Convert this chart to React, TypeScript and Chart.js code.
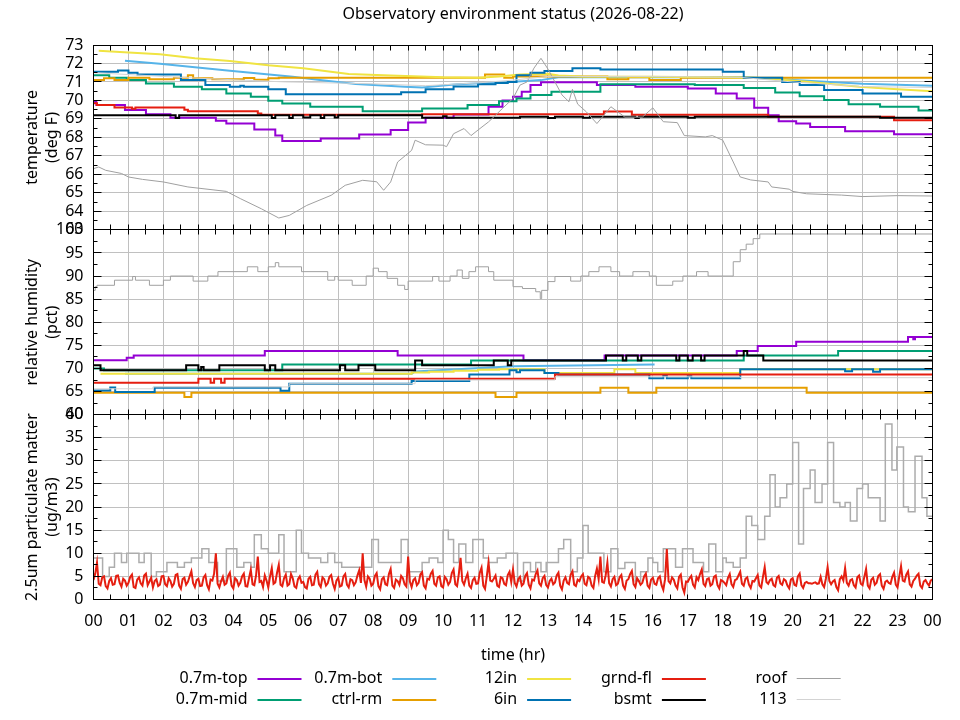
import React, { useEffect, useRef } from 'react';
import { Chart, registerables } from 'chart.js';

Chart.register(...registerables);

type P = [number, number];

// ---------- legend / series meta ----------
const SENSORS = ['0.7m-top', '0.7m-mid', '0.7m-bot', 'ctrl-rm', '12in', '6in', 'grnd-fl', 'bsmt', 'roof', '113'];
const LINE_COLORS = ['#9400d3', '#009e73', '#56b4e9', '#e69f00', '#f0e442', '#0072b2', '#e51e10', '#000000', '#a0a0a0', '#d3d3d3'];
const LINE_WIDTHS = [2, 2, 2, 2, 2, 2, 2, 2, 1, 1];

const HOUR_LABELS = ['00', '01', '02', '03', '04', '05', '06', '07', '08', '09', '10', '11', '12', '13', '14', '15', '16', '17', '18', '19', '20', '21', '22', '23', '00'];

const TITLE = 'Observatory environment status (2026-08-22)';
const X_TITLE = 'time (hr)';
const TEMP_TITLE = ['temperature', '(deg F)'];
const HUM_TITLE = ['relative humidity', '(pct)'];
const PM_TITLE = ['2.5um particulate matter', '(ug/m3)'];

const TEMP_AXIS = { min: 63, max: 73, step: 1 };
const HUM_AXIS = { min: 60, max: 100, step: 5 };
const PM_AXIS = { min: 0, max: 40, step: 5 };

// ---------- temperature (deg F) : [hour, value] ----------
const tTop: P[] = [[0, 69.93], [0.08, 69.75], [0.9, 69.48], [1.5, 69.26], [2.2, 69.06], [3.5, 68.9], [3.8, 68.75], [4.6, 68.43], [5.2, 68.1], [5.4, 67.8], [6.5, 67.94], [7.6, 68.16], [8.5, 68.4], [9.0, 68.81], [9.5, 69.06], [10.3, 69.24], [11.3, 69.66], [11.7, 70.0], [12.0, 70.2], [12.25, 70.47], [12.5, 70.83], [12.8, 70.98], [14.4, 70.83], [15.5, 70.74], [17.0, 70.65], [17.8, 70.38], [18.4, 70.11], [18.9, 69.6], [19.3, 69.2], [19.6, 68.88], [20.1, 68.75], [20.5, 68.57], [21.5, 68.34], [22.9, 68.17], [24, 68.17]];
const tMid: P[] = [[0, 71.37], [0.45, 71.23], [0.95, 71.1], [1.5, 70.92], [2.3, 70.74], [3.1, 70.6], [3.8, 70.38], [4.5, 70.2], [5.0, 69.98], [5.4, 69.84], [6.2, 69.66], [7.7, 69.42], [9.4, 69.57], [10.7, 69.75], [11.6, 69.96], [12.1, 70.11], [12.5, 70.29], [13.1, 70.47], [14.5, 70.87], [17.2, 70.83], [18.6, 70.67], [19.5, 70.43], [20.2, 70.23], [20.9, 70.02], [21.6, 69.79], [22.5, 69.66], [23.6, 69.45], [24, 69.45]];
const tBot: P[] = [[0.9, 72.15], [1.9, 71.98], [2.9, 71.79], [3.9, 71.61], [4.8, 71.45], [5.7, 71.28], [6.6, 71.08], [7.5, 70.89], [8.9, 70.74], [9.4, 70.7], [10.4, 70.87], [11.8, 70.98], [12.8, 71.1], [13.3, 71.25], [18.6, 71.25], [20, 71.1], [22, 70.9], [24, 70.8]];
const tCtrl: P[] = [[0, 71.1], [0.3, 71.2], [0.6, 71.1], [1.0, 71.23], [1.6, 71.15], [2.3, 71.23], [2.7, 71.37], [2.85, 71.2], [3.4, 71.15], [4.3, 71.22], [4.6, 71.12], [5.0, 71.2], [5.3, 71.23], [11.2, 71.41], [11.75, 71.23], [12.0, 71.3], [14.7, 71.15], [15.3, 71.25], [15.9, 71.1], [16.8, 71.23], [24, 71.23]];
const t12in: P[] = [[0.15, 72.69], [1.0, 72.6], [1.9, 72.5], [2.9, 72.28], [3.9, 72.13], [5.0, 71.9], [6.0, 71.74], [7.3, 71.43], [8.5, 71.35], [10.0, 71.25], [11.0, 71.23], [11.6, 71.3], [12.2, 71.4], [13.0, 71.45], [13.3, 71.35], [14.0, 71.3], [16.0, 71.28], [17.5, 71.25], [19.0, 71.23], [20.5, 71.0], [21.9, 70.74], [23.0, 70.6], [24, 70.5]];
const t6in: P[] = [[0, 71.55], [0.7, 71.62], [1.0, 71.5], [1.26, 71.41], [2.5, 71.1], [3.2, 70.83], [3.9, 70.74], [4.2, 70.8], [4.3, 70.74], [5.0, 70.6], [5.5, 70.33], [8.8, 70.45], [9.5, 70.6], [10.3, 70.75], [11.0, 70.87], [11.5, 70.95], [11.85, 71.0], [12.1, 71.37], [12.5, 71.5], [12.9, 71.6], [13.7, 71.74], [14.5, 71.68], [18.0, 71.55], [18.6, 71.23], [19.7, 71.0], [20.2, 70.83], [20.9, 70.56], [22.0, 70.38], [23.1, 70.2], [24, 70.2]];
const tGrnd: P[] = [[0, 69.85], [0.1, 69.75], [0.6, 69.62], [1.1, 69.55], [1.2, 69.62], [2.6, 69.5], [2.7, 69.42], [4.7, 69.3], [4.8, 69.22], [9.4, 69.26], [14.6, 69.4], [15.4, 69.22], [19.3, 69.12], [22.9, 68.93], [24, 68.93]];
const tBsmt: P[] = [[0, 69.2], [2.35, 69.05], [2.45, 69.2], [5.1, 69.05], [5.2, 69.2], [5.6, 69.05], [5.7, 69.2], [6.0, 69.08], [6.2, 69.2], [6.5, 69.05], [6.6, 69.2], [6.9, 69.08], [7.0, 69.2], [9.4, 69.06], [10.0, 69.15], [10.1, 69.06], [12.2, 69.12], [13.0, 69.05], [13.2, 69.12], [14.0, 69.06], [14.2, 69.12], [15.5, 69.05], [15.6, 69.12], [17.0, 69.06], [17.2, 69.12], [22.5, 69.06], [24, 69.06]];
const tRoof: P[] = [[0, 66.31], [0.15, 66.4], [0.35, 66.22], [0.8, 66.05], [1.0, 65.86], [1.4, 65.73], [2.0, 65.59], [2.7, 65.32], [3.8, 65.08], [4.2, 64.69], [4.8, 64.14], [5.3, 63.64], [5.6, 63.78], [6.1, 64.32], [6.8, 64.87], [7.2, 65.41], [7.7, 65.68], [8.1, 65.6], [8.3, 65.14], [8.5, 65.59], [8.7, 66.67], [9.1, 67.3], [9.2, 67.85], [9.5, 67.6], [10.0, 67.58], [10.1, 67.5], [10.3, 68.2], [10.6, 68.48], [10.8, 68.1], [11.0, 68.4], [11.3, 68.84], [11.5, 69.2], [11.7, 69.57], [12.0, 70.11], [12.2, 70.83], [12.4, 71.0], [12.6, 71.75], [12.8, 72.28], [13.0, 71.7], [13.2, 71.0], [13.4, 70.3], [13.6, 69.93], [13.7, 70.6], [13.85, 69.8], [14.1, 69.38], [14.4, 68.75], [14.6, 69.2], [14.8, 69.66], [15.2, 69.1], [15.7, 69.1], [16.0, 69.6], [16.3, 68.85], [16.7, 68.8], [16.9, 68.1], [17.5, 68.03], [17.7, 68.1], [18.0, 67.85], [18.3, 66.67], [18.5, 65.86], [18.8, 65.7], [19.3, 65.59], [19.4, 65.32], [19.9, 65.2], [20.0, 65.08], [20.4, 64.95], [21.4, 64.88], [22.0, 64.8], [23.0, 64.85], [24, 64.83]];
const t113: P[] = [[0, 71.5], [1.5, 71.35], [3, 71.2], [5.5, 71.0], [8, 70.9], [9.5, 70.8], [11, 70.95], [12, 71.1], [13, 71.3], [16, 71.3], [18.5, 71.25], [20, 71.0], [22, 70.75], [24, 70.7]];

// ---------- relative humidity (pct) ----------
const hTop: P[] = [[0, 71.75], [0.95, 72.3], [1.15, 72.83], [4.9, 73.77], [8.7, 72.83], [12.3, 71.8], [14.62, 72.83], [18.4, 73.77], [19.0, 74.85], [20.1, 75.8], [23.3, 76.8], [23.45, 76.3], [23.5, 76.8], [24, 76.8]];
const hMid: P[] = [[0, 70.0], [0.3, 69.6], [5.4, 70.85], [10.8, 71.7], [18.6, 72.83], [21.3, 73.77], [24, 73.77]];
const hBot: P[] = [[0.9, 68.85], [9.1, 68.85], [9.2, 69.35], [12.0, 70.46], [16.05, 70.83]];
const hCtrl: P[] = [[0, 64.74], [2.6, 63.8], [2.8, 64.74], [11.5, 63.8], [12.1, 64.74], [14.5, 65.8], [15.3, 64.74], [16.1, 65.8], [20.4, 64.74], [24, 64.74]];
const h12in: P[] = [[0.2, 68.85], [9.1, 69.1], [9.6, 69.3], [10.3, 69.5], [11.0, 69.7], [11.6, 69.85], [12.9, 69.0], [14.9, 69.85], [15.5, 69.0], [18.5, 69.85], [24, 69.85]];
const h6in: P[] = [[0, 65.25], [0.48, 65.9], [0.62, 64.9], [1.75, 65.8], [5.35, 65.2], [5.6, 66.7], [9.1, 67.3], [10.75, 68.7], [11.9, 69.6], [12.1, 69.2], [12.2, 69.6], [12.9, 69.0], [13.3, 68.7], [15.9, 67.9], [16.3, 68.5], [16.4, 67.9], [17.0, 68.3], [17.1, 67.9], [18.5, 69.85], [21.5, 69.4], [21.7, 69.85], [22.3, 69.3], [22.5, 69.85], [24, 69.85]];
const hGrnd: P[] = [[0, 66.9], [3.0, 67.77], [3.35, 66.9], [3.45, 67.77], [3.65, 66.9], [3.75, 67.77], [13.2, 68.7], [24, 68.7]];
const hBsmt: P[] = [[0, 70.7], [0.2, 69.6], [2.65, 70.7], [3.0, 69.6], [3.08, 70.3], [3.15, 69.6], [3.6, 70.7], [4.9, 69.6], [5.05, 70.7], [5.2, 69.6], [7.05, 70.7], [7.2, 69.6], [7.58, 70.7], [8.06, 69.6], [9.2, 71.7], [9.4, 70.7], [11.45, 71.7], [11.85, 70.7], [11.95, 71.7], [14.66, 72.83], [15.14, 71.7], [15.24, 72.83], [15.57, 71.7], [15.67, 72.83], [16.67, 71.7], [16.76, 72.83], [17.0, 71.7], [17.14, 72.83], [17.38, 71.7], [17.48, 72.83], [18.6, 73.77], [18.7, 72.83], [19.16, 71.7], [24, 71.7]];
const hRoof: P[] = [[0, 86.9], [0.05, 87.7], [0.1, 88.0], [0.6, 89.1], [1.12, 89.9], [1.2, 89.1], [1.6, 88.0], [2.0, 89.1], [2.2, 90.0], [2.85, 88.9], [3.27, 90.0], [3.56, 90.95], [4.4, 92.0], [4.7, 90.95], [5.0, 92.0], [5.2, 92.9], [5.3, 92.0], [5.95, 90.95], [6.7, 89.1], [6.9, 89.9], [7.0, 89.1], [7.4, 88.0], [7.8, 90.0], [8.0, 91.7], [8.15, 90.95], [8.4, 89.5], [8.7, 88.0], [8.9, 87.1], [9.0, 88.9], [9.7, 89.9], [9.88, 88.9], [10.2, 90.0], [10.4, 91.3], [10.55, 89.5], [10.74, 90.95], [10.93, 92.0], [11.3, 90.95], [11.45, 89.1], [12.0, 87.7], [12.27, 87.3], [12.65, 86.6], [12.78, 85.1], [12.82, 86.9], [13.0, 88.8], [13.2, 89.9], [13.65, 88.9], [13.94, 90.0], [14.17, 90.95], [14.46, 92.0], [14.8, 90.95], [15.05, 90.0], [15.43, 90.95], [15.9, 90.0], [16.1, 88.0], [16.57, 88.9], [16.86, 90.0], [17.25, 90.95], [17.58, 90.0], [18.3, 93.1], [18.5, 95.7], [18.67, 96.9], [18.87, 98.1], [19.06, 99.1], [24, 99.1]];
const h113: P[] = [[0, 65.6], [1.7, 66.0], [5.6, 66.7], [9.2, 67.5], [13.2, 68.2], [18.5, 68.0], [24, 68.0]];

// ---------- 2.5um particulate matter (ug/m3) ----------
const pRoof: P[] = [[0, 9], [0.26, 5], [0.45, 7], [0.6, 10], [0.8, 8], [0.95, 10], [1.3, 8], [1.45, 10], [1.65, 5], [1.8, 6], [2.1, 8], [2.4, 7], [2.6, 8], [2.8, 9], [3.1, 11], [3.3, 8], [3.55, 4], [3.8, 11], [4.1, 7], [4.3, 8], [4.5, 7], [4.6, 14], [4.8, 11], [5.0, 10], [5.3, 14], [5.45, 6], [5.8, 15], [5.95, 10], [6.15, 9], [6.5, 8], [6.7, 10], [6.9, 8], [7.1, 7], [7.96, 13], [8.15, 8], [8.8, 13], [9.0, 6], [9.4, 8], [9.6, 9], [9.85, 8], [10.0, 15], [10.15, 13], [10.3, 8], [10.45, 12], [10.65, 8], [10.85, 13], [11.15, 9], [11.3, 8], [11.55, 9], [11.8, 10], [12.13, 4], [12.3, 8], [12.5, 6], [12.65, 8], [12.8, 6], [12.95, 8], [13.3, 11], [13.45, 13], [13.65, 6], [13.84, 9], [14.0, 16], [14.15, 10], [14.6, 6], [14.8, 11], [15.0, 6.7], [15.2, 8], [15.5, 4], [15.65, 6], [15.86, 9], [16.0, 8], [16.14, 6], [16.3, 11], [16.65, 7], [16.85, 11], [17.15, 8], [17.45, 6], [17.6, 12], [17.8, 6], [18.0, 9], [18.1, 8], [18.3, 7], [18.5, 9], [18.67, 18], [18.83, 16], [19.0, 13], [19.2, 18], [19.35, 27], [19.5, 20], [19.64, 22], [19.83, 25], [20.0, 34], [20.17, 12], [20.31, 24], [20.5, 28], [20.64, 21], [20.84, 25], [21.0, 34], [21.17, 21], [21.35, 20], [21.5, 21], [21.65, 17], [21.84, 24], [22.0, 25], [22.16, 22], [22.5, 17], [22.65, 38], [22.84, 28], [22.98, 33], [23.17, 20], [23.31, 19], [23.5, 31], [23.7, 22], [23.84, 18], [24, 18]];

// grnd-fl PM sampled every 3 minutes (0.05 hr), one row per hour
const PM_GRND_STEP_HR = 0.05;
const pGrnd: number[] = [
  4.2, 5.6, 8.0, 3.4, 3.1, 4.8, 5.0, 2.9, 2.4, 4.0, 4.6, 3.2, 3.3, 5.1, 5.2, 3.6, 2.8, 4.5, 4.1, 3.0,
  3.6, 4.9, 5.4, 2.7, 2.5, 4.3, 4.8, 3.5, 3.0, 5.2, 5.6, 3.1, 3.9, 4.7, 2.6, 4.0, 4.4, 2.9, 3.2, 5.0,
  5.1, 3.3, 2.9, 4.6, 4.0, 2.8, 3.4, 5.3, 5.5, 3.0, 2.3, 4.4, 4.7, 3.2, 3.8, 5.0, 6.1, 3.5, 2.7, 4.2,
  4.5, 2.9, 3.0, 4.8, 5.3, 3.1, 2.2, 4.3, 4.1, 5.6, 10.0, 3.4, 2.6, 4.0, 4.9, 3.2, 3.5, 5.1, 5.8, 3.0,
  2.4, 4.6, 4.2, 3.0, 3.6, 5.0, 5.6, 2.9, 2.8, 4.7, 6.4, 3.3, 3.1, 5.2, 9.3, 3.8, 4.0, 2.7, 5.2, 4.1,
  2.6, 5.0, 6.8, 3.4, 3.7, 5.8, 7.5, 3.2, 2.9, 4.6, 5.4, 3.0, 3.3, 5.5, 4.6, 2.8, 2.5, 4.4, 5.0, 3.6,
  3.8, 2.7, 2.4, 4.5, 4.9, 3.1, 3.2, 5.4, 6.0, 3.3, 2.7, 4.8, 4.4, 3.0, 3.5, 4.9, 5.3, 3.4, 2.3, 4.1,
  4.7, 2.8, 3.0, 5.0, 5.5, 3.2, 2.6, 4.4, 4.2, 3.1, 3.7, 5.2, 6.3, 3.6, 10.0, 4.2, 2.8, 5.0, 4.5, 3.0,
  3.4, 5.1, 5.7, 2.9, 2.2, 4.4, 4.8, 3.3, 3.1, 5.5, 6.6, 3.0, 2.5, 4.3, 4.0, 3.2, 5.1, 4.6, 3.3, 2.8,
  9.3, 3.9, 2.7, 4.2, 4.6, 3.1, 3.6, 5.4, 5.9, 3.0, 2.4, 4.5, 4.3, 5.6, 6.2, 3.4, 3.0, 4.8, 5.0, 2.9,
  2.6, 4.9, 4.4, 3.2, 3.8, 5.7, 6.5, 3.3, 2.9, 5.5, 9.0, 4.0, 3.2, 4.6, 5.6, 3.0, 2.5, 4.2, 4.7, 3.4,
  3.5, 5.8, 6.9, 3.0, 2.3, 5.0, 8.0, 4.1, 3.9, 4.5, 5.2, 3.0, 2.7, 4.8, 4.6, 3.4, 3.1, 5.3, 6.0, 3.8,
  6.5, 3.6, 2.8, 4.4, 4.9, 3.0, 3.4, 5.1, 5.7, 3.2, 2.4, 4.3, 4.1, 5.5, 6.3, 3.5, 3.0, 4.6, 5.1, 3.1,
  2.6, 4.0, 4.5, 3.3, 3.7, 5.2, 5.8, 3.0, 2.2, 4.1, 4.8, 3.6, 3.3, 5.4, 6.1, 3.2, 2.9, 4.3, 4.0, 5.0,
  5.5, 3.4, 3.1, 4.9, 4.6, 3.0, 2.5, 5.1, 6.7, 4.4, 9.3, 3.8, 3.6, 5.2, 8.0, 3.5, 2.8, 4.4, 4.9, 3.1,
  3.4, 4.8, 5.3, 3.0, 2.3, 4.1, 4.4, 5.5, 6.2, 3.3, 2.7, 4.6, 4.0, 3.2, 3.6, 5.0, 5.6, 3.0, 2.5, 4.3,
  4.7, 3.4, 3.2, 4.6, 5.0, 3.1, 2.1, 4.4, 10.9, 4.0, 3.5, 4.8, 4.3, 3.0, 2.4, 4.9, 5.4, 2.6, 1.5, 3.9,
  3.8, 4.6, 5.1, 3.2, 2.6, 4.8, 4.2, 5.5, 6.5, 3.4, 2.9, 4.4, 4.6, 3.0, 3.3, 4.9, 5.2, 3.1, 2.4, 4.2,
  4.0, 3.6, 3.1, 4.7, 5.5, 3.3, 2.7, 4.2, 4.4, 5.2, 6.0, 3.4, 3.0, 4.5, 4.8, 3.2, 2.5, 4.0, 3.9, 4.6,
  5.3, 3.0, 2.6, 4.9, 7.0, 3.8, 3.4, 4.2, 4.5, 3.1, 2.8, 4.7, 5.1, 3.5, 3.2, 4.4, 4.1, 3.0, 2.4, 4.3,
  4.6, 3.2, 3.0, 5.0, 5.6, 3.1, 2.5, 3.6, 3.8, 3.5, 3.5, 3.4, 3.6, 3.7, 3.4, 3.5, 4.9, 3.3, 2.7, 4.5,
  7.0, 4.0, 3.3, 3.9, 4.2, 2.7, 2.0, 4.4, 5.0, 4.1, 6.8, 3.6, 3.0, 4.2, 4.4, 3.1, 2.6, 4.8, 5.2, 3.4,
  3.1, 4.9, 6.6, 3.0, 2.4, 4.3, 4.7, 3.2, 3.6, 5.1, 5.5, 3.0, 2.3, 3.8, 4.1, 3.6, 3.4, 4.9, 5.8, 3.2,
  2.6, 5.0, 7.2, 4.1, 3.9, 5.4, 6.1, 3.3, 2.8, 4.0, 4.5, 5.2, 5.6, 3.0, 2.5, 3.9, 4.2, 3.5, 3.0, 4.1,
  4.4,
];

const TEMP_SERIES = [tTop, tMid, tBot, tCtrl, t12in, t6in, tGrnd, tBsmt, tRoof, t113];
const TEMP_STEPPED = [true, true, false, true, false, true, true, true, false, false];
const HUM_SERIES = [hTop, hMid, hBot, hCtrl, h12in, h6in, hGrnd, hBsmt, hRoof, h113];
const HUM_STEPPED = [true, true, false, true, true, true, true, true, true, true];

// ---------- styling / layout constants ----------
const FONT = "'Noto Sans', sans-serif";
const GRID = '#c0c0c0';
const Y_AXIS_W = 93.5;
const X_AXIS_H = 70;
const LEGEND_X0 = 257.5;
const LEGEND_DX = 134.8;
const LEGEND_Y0 = 678.5;
const LEGEND_DY = 21;
const LEGEND_LEN = 44;

function toXY(pts: P[]) {
  return pts.map(([x, y]) => ({ x, y }));
}

function buildDatasets() {
  const ds: any[] = [];
  SENSORS.forEach((name, i) => {
    ds.push({
      label: name + ' temp', data: toXY(TEMP_SERIES[i]), yAxisID: 'yT',
      borderColor: LINE_COLORS[i], borderWidth: LINE_WIDTHS[i], stepped: TEMP_STEPPED[i],
      pointRadius: 0, fill: false, tension: 0, order: 100 - i,
    });
    ds.push({
      label: name + ' rh', data: toXY(HUM_SERIES[i]), yAxisID: 'yH',
      borderColor: LINE_COLORS[i], borderWidth: LINE_WIDTHS[i], stepped: HUM_STEPPED[i],
      pointRadius: 0, fill: false, tension: 0, order: 100 - i,
    });
  });
  ds.push({
    label: 'roof pm', data: toXY(pRoof), yAxisID: 'yP',
    borderColor: '#acacac', borderWidth: 1.5, stepped: true,
    pointRadius: 0, fill: false, tension: 0, order: 60,
  });
  ds.push({
    label: 'grnd-fl pm', data: pGrnd.map((v, i) => ({ x: i * PM_GRND_STEP_HR, y: v })), yAxisID: 'yP',
    borderColor: LINE_COLORS[6], borderWidth: 2, stepped: false,
    pointRadius: 0, fill: false, tension: 0, order: 50,
  });
  return ds;
}

const crisp = (v: number) => Math.round(v - 0.5) + 0.5;

const framePlugin = {
  id: 'gpFrames',
  afterDatasetsDraw(chart: any) {
    const { ctx, chartArea } = chart;
    const xs = chart.scales.x;
    const left = crisp(chartArea.left);
    const right = crisp(chartArea.right);
    ctx.save();
    ctx.strokeStyle = '#000';
    ctx.lineWidth = 1;
    const seg = (x1: number, y1: number, x2: number, y2: number) => {
      ctx.beginPath();
      ctx.moveTo(x1, y1);
      ctx.lineTo(x2, y2);
      ctx.stroke();
    };
    for (const id of ['yT', 'yH', 'yP']) {
      const s = chart.scales[id];
      const top = crisp(s.top);
      const bottom = crisp(s.bottom);
      ctx.strokeRect(left, top, right - left, bottom - top);
      const step = s.options.ticks.stepSize;
      const nMinor = Math.round((s.max - s.min) / (step / 2));
      for (let k = 0; k <= nMinor; k++) {
        const v = s.min + (k * step) / 2;
        const py = crisp(s.getPixelForValue(v));
        const len = k % 2 === 0 ? 8 : 4;
        seg(left, py, left + len, py);
        seg(right - len, py, right, py);
      }
      const nX = Math.round((xs.max - xs.min) / 0.5);
      for (let k = 0; k <= nX; k++) {
        const px = crisp(xs.getPixelForValue(xs.min + k * 0.5));
        seg(px, top, px, top + 5);
        seg(px, bottom - 5, px, bottom);
      }
    }
    ctx.restore();
  },
};

const legendPlugin = {
  id: 'gpLegend',
  afterDraw(chart: any) {
    const ctx = chart.ctx;
    ctx.save();
    ctx.font = `16px ${FONT}`;
    ctx.fillStyle = '#000';
    ctx.textAlign = 'right';
    ctx.textBaseline = 'middle';
    SENSORS.forEach((name, i) => {
      const col = Math.floor(i / 2);
      const row = i % 2;
      const lx = LEGEND_X0 + col * LEGEND_DX;
      const ly = LEGEND_Y0 + row * LEGEND_DY;
      ctx.fillText(name, lx - 10, ly);
      ctx.strokeStyle = LINE_COLORS[i];
      ctx.lineWidth = LINE_WIDTHS[i];
      const yy = LINE_WIDTHS[i] === 1 ? crisp(ly) : Math.round(ly);
      ctx.beginPath();
      ctx.moveTo(lx, yy);
      ctx.lineTo(lx + LEGEND_LEN, yy);
      ctx.stroke();
    });
    ctx.restore();
  },
};

function yAxis(range: { min: number; max: number; step: number }, title: string[], weight: number) {
  return {
    type: 'linear',
    position: 'left',
    stack: 'panels',
    stackWeight: 1,
    weight,
    min: range.min,
    max: range.max,
    ticks: { stepSize: range.step, autoSkip: false, padding: 10, color: '#000', font: { size: 16, family: FONT } },
    grid: { color: GRID, lineWidth: 1, drawTicks: false },
    border: { display: false },
    title: {
      display: true, text: title, color: '#000',
      font: { size: 16, family: FONT, lineHeight: 1.3 },
      padding: { top: 21.6, bottom: 0 },
    },
    afterFit: (s: any) => { s.width = Y_AXIS_W; },
  };
}

export default function App() {
  const ref = useRef<HTMLCanvasElement>(null);
  useEffect(() => {
    if (!ref.current) return;
    Chart.defaults.font.family = FONT;
    Chart.defaults.font.size = 16;
    Chart.defaults.color = '#000';
    const chart = new Chart(ref.current, {
      type: 'line',
      data: { datasets: buildDatasets() },
      options: {
        responsive: false,
        animation: false,
        events: [],
        layout: { padding: { left: 0, right: 27.5, top: 0, bottom: 720 - 599.5 - X_AXIS_H } },
        plugins: {
          legend: { display: false },
          tooltip: { enabled: false },
          title: {
            display: true, text: TITLE, fullSize: false, color: '#000',
            font: { size: 16, family: FONT, weight: 'normal' },
            padding: { top: 4.4, bottom: 21.4 },
          },
        },
        scales: {
          x: {
            type: 'linear',
            min: 0,
            max: 24,
            ticks: {
              stepSize: 0.5, autoSkip: false, maxRotation: 0, minRotation: 0, padding: 12.6,
              color: '#000', font: { size: 16, family: FONT },
              callback: (v: any) => (Number.isInteger(v) ? HOUR_LABELS[v] : ''),
            },
            grid: {
              color: (c: any) => (c.tick && Number.isInteger(c.tick.value) ? GRID : 'rgba(0,0,0,0)'),
              lineWidth: 1, drawTicks: false,
            },
            border: { display: false },
            title: {
              display: true, text: X_TITLE, color: '#000',
              font: { size: 16, family: FONT }, padding: { top: 0, bottom: 4.9 },
            },
            afterFit: (s: any) => { s.height = X_AXIS_H; },
          },
          yP: yAxis(PM_AXIS, PM_TITLE, 1),
          yH: yAxis(HUM_AXIS, HUM_TITLE, 2),
          yT: yAxis(TEMP_AXIS, TEMP_TITLE, 3),
        } as any,
      },
      plugins: [framePlugin, legendPlugin],
    } as any);
    return () => chart.destroy();
  }, []);
  return (
    <div style={{ position: 'absolute', left: 0, top: 0, width: 960, height: 720, background: '#fff' }}>
      <canvas ref={ref} width={960} height={720} style={{ width: 960, height: 720, display: 'block' }} />
    </div>
  );
}
